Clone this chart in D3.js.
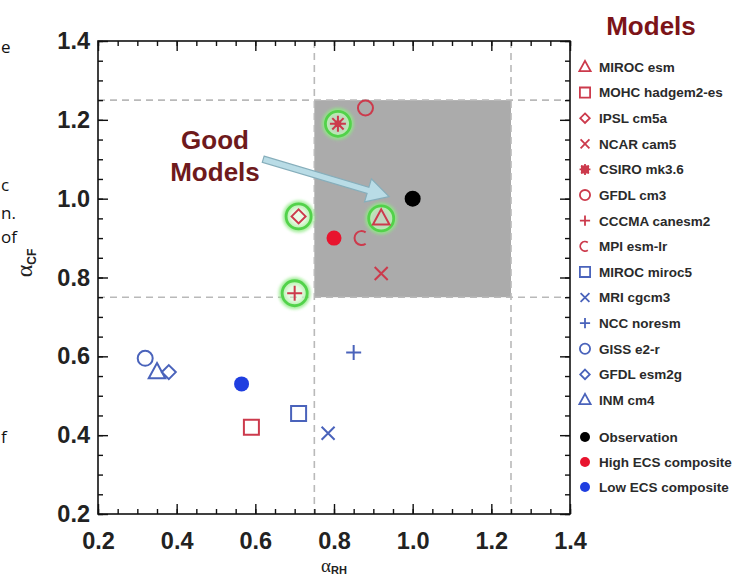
<!DOCTYPE html>
<html>
<head>
<meta charset="utf-8">
<script src="https://cdn.jsdelivr.net/npm/d3@7"></script>
<style>
html,body{margin:0;padding:0;background:#fff;}
svg{display:block;}
</style>
</head>
<body>
<svg id="chart" width="737" height="578"></svg>
<script>
// ---------- data ----------
const models = ["MIROC esm","MOHC hadgem2-es","IPSL cm5a","NCAR cam5","CSIRO mk3.6","GFDL cm3","CCCMA canesm2","MPI esm-lr","MIROC miroc5","MRI cgcm3","NCC noresm","GISS e2-r","GFDL esm2g","INM cm4"];
const modelShapes = ["triangle","square","diamond","x","asterisk","circle","plus","c","square","x","plus","circle","diamond","triangle"];
const modelGroups = ["high","high","high","high","high","high","high","high","low","low","low","low","low","low"];
const alphaRH = [0.92,0.59,0.71,0.92,0.81,0.88,0.70,0.87,0.71,0.785,0.85,0.32,0.38,0.35];
const alphaCF = [0.95,0.42,0.955,0.81,1.19,1.23,0.76,0.90,0.455,0.405,0.61,0.595,0.56,0.56];
const goodModels = ["MIROC esm","IPSL cm5a","CSIRO mk3.6","CCCMA canesm2"];

const composites = ["Observation","High ECS composite","Low ECS composite"];
const compositeRH = [1.0,0.80,0.565];
const compositeCF = [1.0,0.90,0.53];
const compositeColors = ["#000000","#e8142e","#1f3ee0"];

const tickValues = [0.2,0.4,0.6,0.8,1.0,1.2,1.4];
const tickLabels = ["0.2","0.4","0.6","0.8","1.0","1.2","1.4"];
const goodBox = [0.75,1.25];
const arrowFrom = [0.62,1.10];
const arrowTo = [0.94,1.005];
const leftFragments = [["e",47],["c",185],["n.",213],["of",237],["f",437]];

// ---------- setup ----------
const svg = d3.select("#chart");
const FONT = "'Liberation Sans', Arial, Helvetica, sans-serif";
const groupColor = {high:"#cc3a4c", low:"#4a63bb"};
const L = 98, R = 570, T = 41, B = 514;
const x = d3.scaleLinear().domain([0.2,1.4]).range([L,R]);
const y = d3.scaleLinear().domain([0.2,1.4]).range([B,T]);

const defs = svg.append("defs");
const glow = defs.append("filter").attr("id","glow").attr("x","-50%").attr("y","-50%").attr("width","200%").attr("height","200%");
glow.append("feGaussianBlur").attr("stdDeviation",1.6);

// left clipped text fragments
svg.append("g").selectAll("text").data(leftFragments).join("text")
  .attr("x",1).attr("y",d=>d[1]+6).text(d=>d[0])
  .attr("font-family","'Open Sans', sans-serif").attr("font-size",17).attr("fill","#111");

// gray "good" box
svg.append("rect")
  .attr("x",x(goodBox[0])).attr("y",y(goodBox[1]))
  .attr("width",x(goodBox[1])-x(goodBox[0])).attr("height",y(goodBox[0])-y(goodBox[1]))
  .attr("fill","#ababab");

// dashed lines
const dash = svg.append("g").attr("stroke","#b9b9b9").attr("stroke-width",1.6).attr("stroke-dasharray","7,5");
goodBox.forEach(v=>{
  dash.append("line").attr("x1",x(v)).attr("x2",x(v)).attr("y1",T).attr("y2",B);
  dash.append("line").attr("x1",L).attr("x2",R).attr("y1",y(v)).attr("y2",y(v));
});

// axes
const minorTicks = d3.range(0.2,1.4001,0.05);
function styleAxis(g){ g.select(".domain").remove(); g.selectAll("line").attr("stroke","#111").attr("stroke-width",1.4); }
const bottomMaj = svg.append("g").attr("transform",`translate(0,${B})`)
  .call(d3.axisBottom(x).tickValues(tickValues).tickSizeInner(-10).tickSizeOuter(0).tickPadding(18).tickFormat((d,i)=>tickLabels[i]));
const leftMaj = svg.append("g").attr("transform",`translate(${L},0)`)
  .call(d3.axisLeft(y).tickValues(tickValues).tickSizeInner(-10).tickSizeOuter(0).tickPadding(8).tickFormat((d,i)=>tickLabels[i]));
const topMaj = svg.append("g").attr("transform",`translate(0,${T})`)
  .call(d3.axisTop(x).tickValues(tickValues).tickSizeInner(-10).tickSizeOuter(0).tickFormat(""));
const rightMaj = svg.append("g").attr("transform",`translate(${R},0)`)
  .call(d3.axisRight(y).tickValues(tickValues).tickSizeInner(-10).tickSizeOuter(0).tickFormat(""));
const bottomMin = svg.append("g").attr("transform",`translate(0,${B})`).call(d3.axisBottom(x).tickValues(minorTicks).tickSizeInner(-5).tickSizeOuter(0).tickFormat(""));
const leftMin = svg.append("g").attr("transform",`translate(${L},0)`).call(d3.axisLeft(y).tickValues(minorTicks).tickSizeInner(-5).tickSizeOuter(0).tickFormat(""));
const topMin = svg.append("g").attr("transform",`translate(0,${T})`).call(d3.axisTop(x).tickValues(minorTicks).tickSizeInner(-5).tickSizeOuter(0).tickFormat(""));
const rightMin = svg.append("g").attr("transform",`translate(${R},0)`).call(d3.axisRight(y).tickValues(minorTicks).tickSizeInner(-5).tickSizeOuter(0).tickFormat(""));
[bottomMaj,leftMaj,topMaj,rightMaj,bottomMin,leftMin,topMin,rightMin].forEach(styleAxis);
[bottomMaj,leftMaj].forEach(g=>g.selectAll("text").attr("font-family",FONT).attr("font-weight","bold").attr("font-size",23.5).attr("fill","#222"));

// frame
svg.append("rect").attr("x",L).attr("y",T).attr("width",R-L).attr("height",B-T)
  .attr("fill","none").attr("stroke","#111").attr("stroke-width",1.6);

// axis titles
const xt = svg.append("text").attr("x",(L+R)/2).attr("y",572).attr("text-anchor","middle").attr("fill","#222");
xt.append("tspan").text("α").attr("font-family","'Liberation Serif', 'Times New Roman', serif").attr("font-size",19);
xt.append("tspan").text("RH").attr("dy",1.5).attr("font-family",FONT).attr("font-weight","bold").attr("font-size",11);
const yt = svg.append("text").attr("transform",`translate(32,263) rotate(-90)`).attr("text-anchor","middle").attr("fill","#222");
yt.append("tspan").text("α").attr("font-family","'Liberation Serif', 'Times New Roman', serif").attr("font-size",24);
yt.append("tspan").text("CF").attr("dy",4).attr("font-family",FONT).attr("font-weight","bold").attr("font-size",12);

// symbol paths
function shapePath(shape,k){
  const p = d3.path();
  if(shape==="triangle"){ const s=9*k; p.moveTo(0,-s); p.lineTo(s*0.92,s*0.68); p.lineTo(-s*0.92,s*0.68); p.closePath(); }
  else if(shape==="square"){ const s=7.5*k; p.rect(-s,-s,2*s,2*s); }
  else if(shape==="diamond"){ const s=7*k; p.moveTo(0,-s); p.lineTo(s,0); p.lineTo(0,s); p.lineTo(-s,0); p.closePath(); }
  else if(shape==="x"){ const s=6.5*k; p.moveTo(-s,-s); p.lineTo(s,s); p.moveTo(-s,s); p.lineTo(s,-s); }
  else if(shape==="plus"){ const s=7.5*k; p.moveTo(-s,0); p.lineTo(s,0); p.moveTo(0,-s); p.lineTo(0,s); }
  else if(shape==="circle"){ const s=7.5*k; p.arc(0,0,s,0,2*Math.PI); }
  else if(shape==="c"){ const s=7*k; p.arc(0,0,s,-Math.PI*0.3,Math.PI*0.3,true); }
  else if(shape==="asterisk"){ const s=8*k, d=s*0.7071;
    p.moveTo(-s,0); p.lineTo(s,0); p.moveTo(0,-s); p.lineTo(0,s);
    p.moveTo(-d,-d); p.lineTo(d,d); p.moveTo(-d,d); p.lineTo(d,-d); }
  return p.toString();
}

const modelData = models.map((m,i)=>({name:m, shape:modelShapes[i], group:modelGroups[i], rh:alphaRH[i], cf:alphaCF[i], good:goodModels.includes(m)}));

// green halos
const halo = svg.append("g").selectAll("g").data(modelData.filter(d=>d.good)).join("g")
  .attr("transform",d=>`translate(${x(d.rh)},${y(d.cf)})`);
halo.append("circle").attr("r",12.5).attr("fill","none").attr("stroke","#8fea84").attr("stroke-width",7).attr("opacity",0.8).attr("filter","url(#glow)");
halo.append("circle").attr("r",12.5).attr("fill","rgba(215,245,210,0.55)").attr("stroke","#52d24a").attr("stroke-width",2.8);

// composite dots
svg.append("g").selectAll("circle").data(composites.map((c,i)=>({name:c, rh:compositeRH[i], cf:compositeCF[i], color:compositeColors[i]}))).join("circle")
  .attr("cx",d=>x(d.rh)).attr("cy",d=>y(d.cf)).attr("r",d=>d.name==="Observation"?8:7.5).attr("fill",d=>d.color);

// model markers
const mk = svg.append("g").selectAll("g").data(modelData).join("g")
  .attr("transform",d=>`translate(${x(d.rh)},${y(d.cf)})`);
mk.append("path").attr("d",d=>shapePath(d.shape,1))
  .attr("fill","none").attr("stroke",d=>groupColor[d.group]).attr("stroke-width",2);
mk.filter(d=>d.shape==="asterisk").append("circle").attr("r",3.5).attr("fill",d=>groupColor[d.group]);

// arrow annotation
(function(){
  const x0=x(arrowFrom[0]), y0=y(arrowFrom[1]), x1=x(arrowTo[0]), y1=y(arrowTo[1]);
  const ang=Math.atan2(y1-y0,x1-x0), len=Math.hypot(x1-x0,y1-y0);
  const sw=3.2, hw=12, hl=22;
  const pts=[[0,-sw],[len-hl,-sw],[len-hl,-hw],[len,0],[len-hl,hw],[len-hl,sw],[0,sw]];
  svg.append("polygon").attr("points",pts.map(p=>p.join(",")).join(" "))
    .attr("transform",`translate(${x0},${y0}) rotate(${ang*180/Math.PI})`)
    .attr("fill","#b9dce6").attr("stroke","#86aebb").attr("stroke-width",1.2);
})();

// Good Models label
const gm = svg.append("text").attr("text-anchor","middle").attr("font-family",FONT).attr("font-weight","bold").attr("font-size",26).attr("fill","#6e1a1c");
gm.append("tspan").attr("x",215).attr("y",149).text("Good");
gm.append("tspan").attr("x",215).attr("y",181).text("Models");

// legend
svg.append("text").attr("x",651).attr("y",35).attr("text-anchor","middle").attr("font-family",FONT).attr("font-weight","bold").attr("font-size",26).attr("fill","#7c1418").text("Models");
const legY = d3.scaleLinear().domain([0,13]).range([67,400]);
const leg = svg.append("g").selectAll("g").data(modelData).join("g")
  .attr("transform",(d,i)=>`translate(585,${legY(i)})`);
leg.append("path").attr("d",d=>shapePath(d.shape,0.68)).attr("fill","none").attr("stroke",d=>groupColor[d.group]).attr("stroke-width",1.8);
leg.filter(d=>d.shape==="asterisk").append("rect").attr("x",-4).attr("y",-4).attr("width",8).attr("height",8).attr("fill",d=>groupColor[d.group]);
leg.append("text").attr("x",14).attr("y",4.8).text(d=>d.name).attr("font-family",FONT).attr("font-weight","bold").attr("font-size",13.5).attr("fill","#2a2a2a");
const legC = svg.append("g").selectAll("g").data(composites.map((c,i)=>({name:c,color:compositeColors[i]}))).join("g")
  .attr("transform",(d,i)=>`translate(585,${437+i*25})`);
legC.append("circle").attr("r",5).attr("fill",d=>d.color);
legC.append("text").attr("x",14).attr("y",4.8).text(d=>d.name).attr("font-family",FONT).attr("font-weight","bold").attr("font-size",13.5).attr("fill","#2a2a2a");
</script>
</body>
</html>
